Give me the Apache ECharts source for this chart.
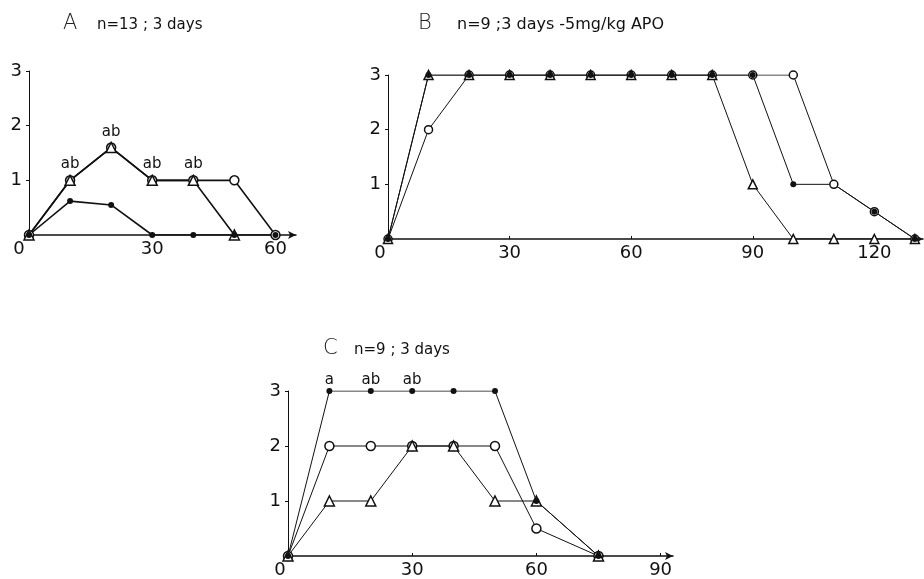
<!DOCTYPE html>
<html>
<head>
<meta charset="utf-8">
<script src="https://cdn.jsdelivr.net/npm/echarts@6/dist/echarts.min.js"></script>
<style>
  html, body { margin: 0; padding: 0; background: #fff; }
  #chart { width: 924px; height: 579px; }
</style>
</head>
<body>
<div id="chart"></div>
<script>
// panel A: n=13 ; 3 days
var xA = [0, 10, 20, 30, 40, 50, 60]
var aCircle = [0, 1, 1.6, 1, 1, 1, 0]
var aTriangle = [0, 1, 1.6, 1, 1, 0, null]
var aDot = [0, 0.62, 0.55, 0, 0, 0, 0]
var aMarks = ['', 'ab', 'ab', 'ab', 'ab', '', '']

// panel B: n=9 ; 3 days - 5mg/kg APO
var xB = [0, 10, 20, 30, 40, 50, 60, 70, 80, 90, 100, 110, 120, 130]
var bCircle = [0, 2, 3, 3, 3, 3, 3, 3, 3, 3, 3, 1, 0.5, 0]
var bTriangle = [0, 3, 3, 3, 3, 3, 3, 3, 3, 1, 0, 0, 0, 0]
var bDot = [0, 3, 3, 3, 3, 3, 3, 3, 3, 3, 1, 1, 0.5, 0]

// panel C: n=9 ; 3 days
var xC = [0, 10, 20, 30, 40, 50, 60, 75]
var cCircle = [0, 2, 2, 2, 2, 2, 0.5, 0]
var cTriangle = [0, 1, 1, 2, 2, 1, 1, 0]
var cDot = [0, 3, 3, 3, 3, 3, 1, 0]
var cMarks = ['', 'a', 'ab', 'ab', '', '', '', '']

var titles = [
    { letter: 'A', text: 'n=13 ; 3 days', lx: 58, ly: 8, tx: 92, ty: 13, fs: 15 },
    { letter: 'B', text: 'n=9 ;3 days -5mg/kg APO', lx: 413, ly: 8, tx: 452, ty: 12, fs: 16 },
    { letter: 'C', text: 'n=9 ; 3 days', lx: 318, ly: 333, tx: 349, ty: 338, fs: 15 }
]

var FONT = 'DejaVu Sans'

function pairs(xs, ys, marks) {
    var out = []
    for (var i = 0; i < xs.length; i++) {
        if (ys[i] == null) continue
        var item = { value: [xs[i], ys[i]] }
        if (marks && marks[i]) {
            item.label = { show: true, formatter: marks[i] }
        }
        out.push(item)
    }
    return out
}

var grids = [
    { left: 29, top: 71, width: 267, height: 164 },
    { left: 388, top: 75, width: 535, height: 164 },
    { left: 288, top: 391, width: 385, height: 166 }
]
var xMax = [65, 132, 93]
var zeroPad = [20, 16, 16]
var lw = [1.6, 1, 1]

var xAxes = grids.map(function (g, i) {
    return {
        type: 'value', gridIndex: i, min: 0, max: xMax[i], interval: 30,
        splitLine: { show: false },
        axisLine: { lineStyle: { color: '#111', width: 1.5 }, symbol: ['none', 'arrow'], symbolSize: [6, 8] },
        axisTick: { show: true, inside: true, length: 3, lineStyle: { color: '#111' } },
        axisLabel: {
            color: '#111', fontFamily: FONT, fontSize: 18, margin: 5, showMaxLabel: false,
            formatter: function (v) { return v === 0 ? '{z|0}' : String(v) },
            rich: { z: { fontFamily: FONT, fontSize: 18, color: '#111', padding: [0, zeroPad[i], 0, 0] } }
        }
    }
})
var yAxes = grids.map(function (g, i) {
    return {
        type: 'value', gridIndex: i, min: 0, max: 3, interval: 1,
        splitLine: { show: false },
        axisLine: { lineStyle: { color: '#111', width: 1 } },
        axisTick: { show: true, length: 3, lineStyle: { color: '#111' } },
        axisLabel: { color: '#111', fontFamily: FONT, fontSize: 18, margin: 7, showMinLabel: false }
    }
})

function line(idx, data, kind, size, labelDist) {
    var filled = kind === 'dot'
    return {
        type: 'line', xAxisIndex: idx, yAxisIndex: idx, data: data,
        symbol: kind === 'triangle' ? 'triangle' : 'circle',
        symbolSize: size,
        lineStyle: { color: '#111', width: lw[idx] },
        itemStyle: { color: filled ? '#111' : '#fff', borderColor: '#111', borderWidth: filled ? 0 : 1.5 },
        label: { position: 'top', distance: labelDist == null ? 3 : labelDist, color: '#111', fontFamily: FONT, fontSize: 15 },
        emphasis: { disabled: true }
    }
}

// in B the dot at 110 sits under the open circle
var bDotSeries = line(1, pairs(xB, bDot), 'dot', 6)
bDotSeries.symbolSize = function (v) { return v[0] === 110 ? 0 : 6 }

var series = [
    line(0, pairs(xA, aCircle, aMarks), 'circle', 9),
    line(0, pairs(xA, aTriangle), 'triangle', 10),
    line(0, pairs(xA, aDot), 'dot', 6),
    line(1, pairs(xB, bCircle), 'circle', 8),
    line(1, pairs(xB, bTriangle), 'triangle', 9),
    bDotSeries,
    line(2, pairs(xC, cCircle), 'circle', 9),
    line(2, pairs(xC, cTriangle), 'triangle', 10),
    line(2, pairs(xC, cDot, cMarks), 'dot', 6, 0)
]

var titleList = []
titles.forEach(function (t) {
    titleList.push({ text: t.letter, left: t.lx, top: t.ly, textStyle: { fontFamily: FONT, fontSize: 21, fontWeight: 'lighter', color: '#222' } })
    titleList.push({ text: t.text, left: t.tx, top: t.ty, textStyle: { fontFamily: FONT, fontSize: t.fs, fontWeight: 'normal', color: '#111' } })
})

var option = {
    animation: false,
    backgroundColor: '#fff',
    title: titleList,
    grid: grids,
    xAxis: xAxes,
    yAxis: yAxes,
    series: series
}

var chart = echarts.init(document.getElementById('chart'))
chart.setOption(option)
</script>
</body>
</html>
